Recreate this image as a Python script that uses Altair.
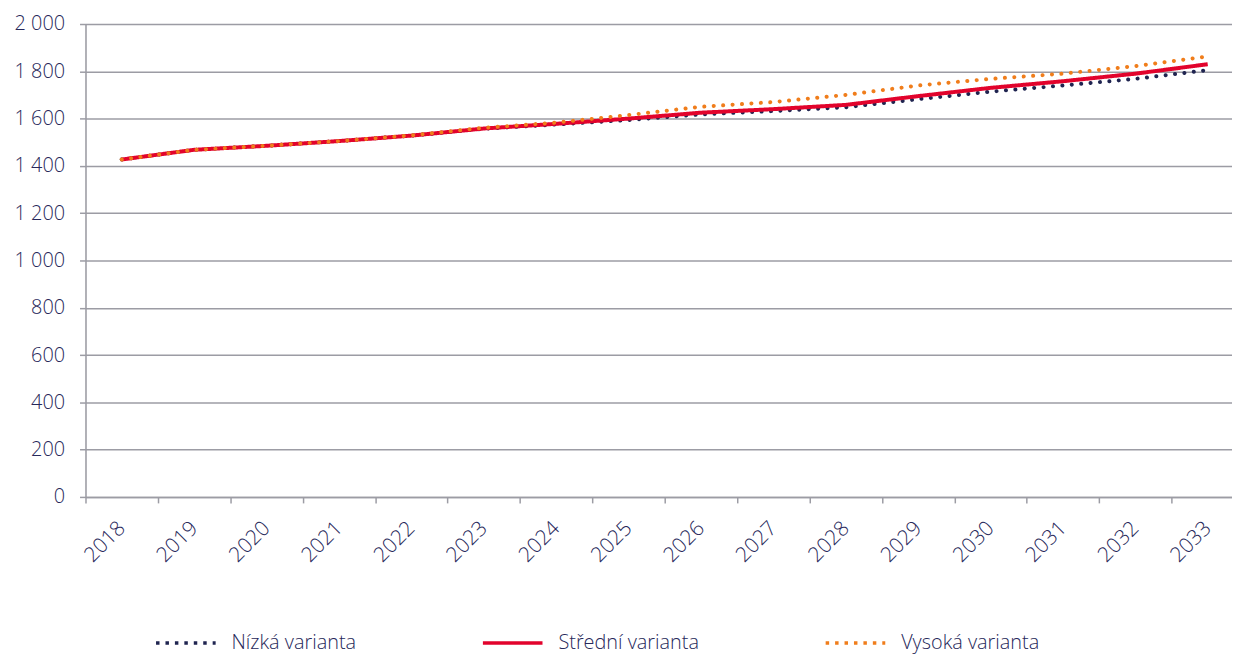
import altair as alt
import pandas as pd

years = [str(y) for y in range(2018, 2034)]
nizka = [1427, 1468, 1485, 1505, 1528, 1557, 1575, 1594, 1618, 1632, 1648, 1682, 1714, 1740, 1768, 1805]
stredni = [1427, 1468, 1485, 1505, 1528, 1558, 1578, 1600, 1625, 1640, 1658, 1695, 1730, 1758, 1790, 1830]
vysoka = [1427, 1468, 1485, 1505, 1529, 1561, 1583, 1615, 1650, 1670, 1700, 1740, 1768, 1790, 1822, 1863]

series_names = ["Nízká varianta", "Střední varianta", "Vysoká varianta"]
series_values = [nizka, stredni, vysoka]
colors = ["#1f2450", "#e2032c", "#f07d1b"]
line_dashes = [[0.1, 9.4], [1, 0], [0.1, 9.4]]
line_caps = ["round", "butt", "round"]
legend_dashes = [[3.5, 6], [1, 0], [3.5, 6]]
widths = [4, 4, 4]
y_ticks = [0, 200, 400, 600, 800, 1000, 1200, 1400, 1600, 1800, 2000]

rows = []
for name, vals in zip(series_names, series_values):
    for yr, v in zip(years, vals):
        rows.append({"rok": yr, "hodnota": v, "varianta": name})
df = pd.DataFrame(rows)

FONT = "Open Sans"
TXT = "#27285a"
GRID = "#9c9ca4"
STEP = 1166 / 16

legend = alt.Legend(
    title=None,
    orient="none",
    direction="horizontal",
    legendX=69,
    legendY=591,
    symbolType="stroke",
    symbolSize=3600,
    symbolStrokeWidth=3.5,
    symbolOpacity=1,
    labelFontSize=20,
    labelFont=FONT,
    labelFontWeight=300,
    labelColor=TXT,
    labelOffset=14,
    columnPadding=120,
    labelLimit=300,
)

x_enc = alt.X(
    "rok:O",
    title=None,
    sort=years,
    scale=alt.Scale(range=[0, 1166]),
    axis=alt.Axis(
        labelAngle=-45,
        labelAlign="right",
        labelBaseline="middle",
        labelFontSize=21,
        labelFont=FONT,
        labelFontWeight=300,
        labelColor=TXT,
        labelPadding=22,
        tickOffset=-STEP / 2,
        labelOffset=STEP / 2,
        tickSize=6,
        tickColor=GRID,
        tickWidth=1.5,
        domainColor=GRID,
        domainWidth=1.5,
        grid=False,
    ),
)
y_enc = alt.Y(
    "hodnota:Q",
    title=None,
    scale=alt.Scale(domain=[0, 2000], nice=False),
    axis=alt.Axis(
        values=y_ticks,
        labelExpr="replace(format(datum.value, ','), ',', ' ')",
        labelFontSize=20,
        labelFont=FONT,
        labelFontWeight=300,
        labelColor=TXT,
        labelPadding=15,
        tickSize=6,
        tickColor=GRID,
        tickWidth=1.5,
        domainColor=GRID,
        domainWidth=1.5,
        grid=True,
        gridColor=GRID,
        gridWidth=1.5,
    ),
)

base = alt.Chart(df)
layers = []
for name, col, dash, cap, w in zip(series_names, colors, line_dashes, line_caps, widths):
    layers.append(
        base.transform_filter(alt.datum.varianta == name)
        .mark_line(strokeWidth=w, color=col, strokeDash=dash, strokeCap=cap, strokeJoin="round")
        .encode(x=x_enc, y=y_enc)
    )

# legend-only layer (no data drawn) carrying the colour / dash scales
legend_layer = (
    base.transform_filter("false")
    .mark_line(strokeWidth=3.5)
    .encode(
        x=x_enc,
        y=y_enc,
        color=alt.Color("varianta:N", scale=alt.Scale(domain=series_names, range=colors), legend=legend),
        strokeDash=alt.StrokeDash(
            "varianta:N", scale=alt.Scale(domain=series_names, range=legend_dashes), legend=legend
        ),
    )
)

chart = (
    alt.layer(*layers, legend_layer)
    .properties(
        width=1154,
        height=476,
        padding={"left": 78, "top": 14, "right": 0, "bottom": 159},
        autosize=alt.AutoSizeParams(type="none"),
    )
    .configure_view(stroke=None)
    .configure(background="white")
)

chart.save("out.html", embed_options={"renderer": "svg", "actions": False})
